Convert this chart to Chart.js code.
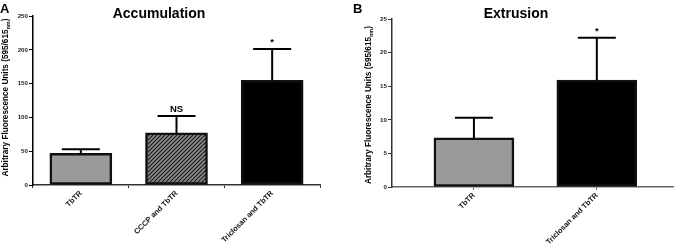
<!DOCTYPE html>
<html>
<head>
<meta charset="utf-8">
<script src="https://cdn.jsdelivr.net/npm/chart.js@4/dist/chart.umd.min.js"></script>
<style>
  body{margin:0;background:#fff;}
  .wrap{display:flex;width:678px;height:244px;}
  canvas{display:block;}
</style>
</head>
<body>
<div class="wrap">
  <canvas id="acc" width="340" height="244"></canvas>
  <canvas id="ext" width="338" height="244"></canvas>
</div>
<script>
const accCategories=['TbTR','CCCP and TbTR','Triclosan and TbTR'];
const accMeans=[47,77,155];
const accErrors=[6,25,46];
const accMarks=['','NS','*'];
const accTicks=[0,50,100,150,200,250];

const extCategories=['TbTR','Triclosan and TbTR'];
const extPositions=[1,2];
const extMeans=[7.3,15.9];
const extErrors=[3.0,6.3];
const extMarks=['','*'];
const extTicks=[0,5,10,15,20,25];

const FONT='"Liberation Sans", Arial, sans-serif';

function hatch(){
  const c=document.createElement('canvas'); c.width=c.height=4;
  const g=c.getContext('2d');
  g.fillStyle='#8a8a8a'; g.fillRect(0,0,4,4);
  g.strokeStyle='#1a1a1a'; g.lineWidth=1.1;
  g.beginPath();
  g.moveTo(0,4); g.lineTo(4,0);
  g.moveTo(-1,1); g.lineTo(1,-1);
  g.moveTo(3,5); g.lineTo(5,3);
  g.stroke();
  return g.createPattern(c,'repeat');
}

// error bars, significance marks, titles, panel letters, y title with subscript
const decor={
  id:'decor',
  afterDatasetsDraw(chart,args,o){
    const ctx=chart.ctx,y=chart.scales.y;
    const meta=chart.getDatasetMeta(0);
    ctx.save();
    ctx.strokeStyle='#000'; ctx.lineWidth=2; ctx.fillStyle='#000';
    meta.data.forEach((bar,i)=>{
      const base=y.getPixelForValue(o.means[i]);
      const top=y.getPixelForValue(o.means[i]+o.errors[i]);
      ctx.beginPath();
      ctx.moveTo(bar.x,base); ctx.lineTo(bar.x,top);
      ctx.moveTo(bar.x-o.cap/2,top); ctx.lineTo(bar.x+o.cap/2,top);
      ctx.stroke();
      if(o.marks[i]){
        ctx.font='bold 9.5px '+FONT; ctx.textAlign='center'; ctx.textBaseline='bottom';
        ctx.fillText(o.marks[i],bar.x,top-2);
      }
    });
    ctx.restore();
  },
  afterDraw(chart,args,o){
    const ctx=chart.ctx,a=chart.chartArea;
    ctx.save();
    ctx.fillStyle='#000';
    ctx.font='bold 13px '+FONT; ctx.textAlign='left'; ctx.textBaseline='alphabetic';
    ctx.fillText(o.letter,o.letterX,13);
    ctx.font='bold 14px '+FONT; ctx.textAlign='center';
    ctx.fillText(o.title,o.titleX,18);
    // rotated y title
    const cy=(a.top+a.bottom)/2+o.yTitleDy;
    ctx.translate(o.yTitleX,cy); ctx.rotate(-Math.PI/2);
    const f1='bold 8.2px '+FONT,f2='bold 5.5px '+FONT;
    const t1='Arbitrary Fluorescence Units (595/615',t2='nm',t3=')';
    ctx.font=f1; const w1=ctx.measureText(t1).width,w3=ctx.measureText(t3).width;
    ctx.font=f2; const w2=ctx.measureText(t2).width;
    let x0=-(w1+w2+w3)/2;
    ctx.textAlign='left'; ctx.textBaseline='middle';
    ctx.font=f1; ctx.fillText(t1,x0,0);
    ctx.font=f2; ctx.fillText(t2,x0+w1,2.5);
    ctx.font=f1; ctx.fillText(t3,x0+w1+w2,0);
    ctx.restore();
  }
};

function yScale(max,ticks,width,axisColor){
  return {
    min:0,max:max,
    afterBuildTicks:s=>{s.ticks=ticks.map(v=>({value:v}));},
    afterFit:s=>{s.width=width;},
    ticks:{font:{family:FONT,size:6.2,weight:'bold'},color:'#222',padding:1},
    grid:{display:true,drawOnChartArea:false,drawTicks:true,tickLength:4,color:axisColor,lineWidth:1},
    border:{display:true,color:axisColor,width:1.5}
  };
}
const xTickFont={family:FONT,size:7.5,weight:'bold'};

new Chart(document.getElementById('acc'),{
  type:'bar',
  data:{labels:accCategories,datasets:[{
    data:accMeans,
    backgroundColor:['#9a9a9a',hatch(),'#000000'],
    borderColor:'#111',borderWidth:2.5,borderSkipped:false,barThickness:62
  }]},
  options:{
    responsive:false,animation:false,
    layout:{padding:{top:16,right:20,left:0,bottom:0}},
    plugins:{legend:{display:false},tooltip:{enabled:false},
      decor:{means:accMeans,errors:accErrors,marks:accMarks,cap:38,
        letter:'A',letterX:0,title:'Accumulation',titleX:159,yTitleX:6,yTitleDy:-3}},
    scales:{
      x:{
        afterFit:s=>{s.height=59;},
        ticks:{font:xTickFont,color:'#111',minRotation:45,maxRotation:45,padding:1},
        grid:{display:true,drawOnChartArea:false,tickLength:3,color:'#333'},
        border:{display:true,color:'#333',width:1.5}
      },
      y:yScale(250,accTicks,33,'#000')
    }
  },
  plugins:[decor]
});

new Chart(document.getElementById('ext'),{
  type:'bar',
  data:{datasets:[{
    data:extPositions.map((p,i)=>({x:p,y:extMeans[i]})),
    backgroundColor:['#9a9a9a','#000000'],
    borderColor:'#111',borderWidth:2.5,borderSkipped:false,barThickness:80
  }]},
  options:{
    responsive:false,animation:false,
    layout:{padding:{top:19,right:5,left:0,bottom:0}},
    plugins:{legend:{display:false},tooltip:{enabled:false},
      decor:{means:extMeans,errors:extErrors,marks:extMarks,cap:38,
        letter:'B',letterX:13,title:'Extrusion',titleX:176,yTitleX:29,yTitleDy:2}},
    scales:{
      x:{
        type:'linear',min:1/3,max:2.62,offset:false,bounds:'data',
        afterBuildTicks:s=>{s.ticks=extPositions.map(v=>({value:v}));},
        afterFit:s=>{s.height=57;},
        ticks:{font:xTickFont,color:'#111',minRotation:45,maxRotation:45,padding:1,
          callback:v=>extCategories[extPositions.indexOf(v)]},
        grid:{display:true,offset:false,drawOnChartArea:false,tickLength:3,color:'#666'},
        border:{display:true,color:'#666',width:1.5}
      },
      y:yScale(25,extTicks,52,'#333')
    }
  },
  plugins:[decor]
});
</script>
</body>
</html>
